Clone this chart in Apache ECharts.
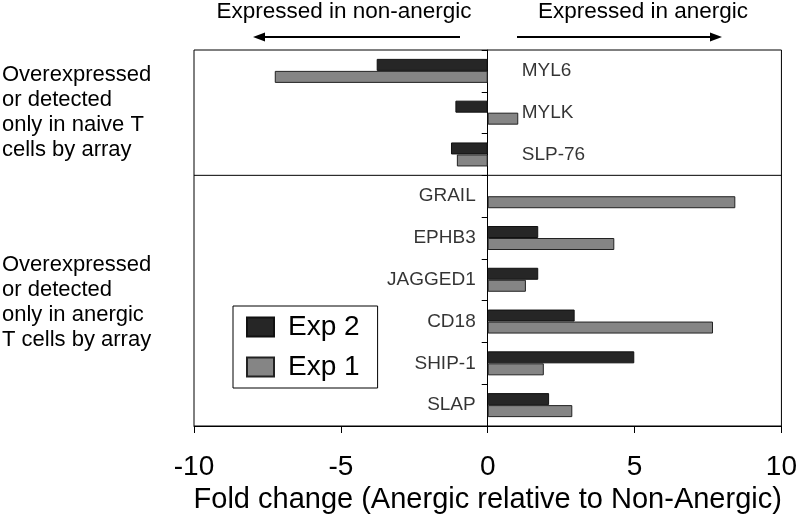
<!DOCTYPE html>
<html>
<head>
<meta charset="utf-8">
<script src="https://cdn.jsdelivr.net/npm/echarts@6/dist/echarts.min.js"></script>
<style>
html,body{margin:0;padding:0;background:#fff;}
#chart{width:800px;height:521px;}
</style>
</head>
<body>
<div id="chart"></div>
<script>
// ---- data ----
const categories = ['MYL6', 'MYLK', 'SLP-76', 'GRAIL', 'EPHB3', 'JAGGED1', 'CD18', 'SHIP-1', 'SLAP'];
const groupOf = ['naive', 'naive', 'naive', 'anergic', 'anergic', 'anergic', 'anergic', 'anergic', 'anergic'];
const exp2 = [-3.78, -1.10, -1.25, null, 1.72, 1.72, 2.96, 4.99, 2.09];
const exp1 = [-7.25, 1.04, -1.05, 8.43, 4.31, 1.30, 7.67, 1.91, 2.88];
const seriesNames = ['Exp 2', 'Exp 1'];
const xTicks = [-10, -5, 0, 5, 10];
const groupTexts = {
  naive: 'Overexpressed\nor detected\nonly in naive T\ncells by array',
  anergic: 'Overexpressed\nor detected\nonly in anergic\nT cells by array'
};
const axisTitle = 'Fold change (Anergic relative to Non-Anergic)';
const leftHeader = 'Expressed in non-anergic';
const rightHeader = 'Expressed in anergic';

const FONT = 'Liberation Sans, Arial, Helvetica, sans-serif';
const chart = echarts.init(document.getElementById('chart'), null, {renderer: 'canvas'});

const labelData = categories.map((c, i) => ({
  value: [0, c],
  label: groupOf[i] === 'naive'
    ? {position: 'right', distance: 34}
    : {position: 'left', distance: 12}
}));

chart.setOption({
  animation: false,
  backgroundColor: '#fff',
  grid: {left: 194, top: 50, width: 591, height: 376, show: true, borderColor: '#000', borderWidth: 1, backgroundColor: 'transparent'},
  legend: {
    data: seriesNames,
    orient: 'vertical',
    left: 233, top: 306,
    itemWidth: 27, itemHeight: 19, itemGap: 12,
    padding: [7, 18, 7, 13],
    borderColor: '#000', borderWidth: 1, borderRadius: 0,
    backgroundColor: '#fff',
    icon: 'rect',
    textStyle: {fontSize: 28, color: '#000', fontFamily: FONT, padding: [0, 0, 0, 9]},
    selectedMode: false
  },
  xAxis: {
    type: 'value', min: xTicks[0], max: xTicks[xTicks.length - 1], interval: 5,
    axisLine: {show: true, onZero: false, lineStyle: {color: '#000', width: 1}},
    axisTick: {show: true, length: 7, lineStyle: {color: '#000'}},
    splitLine: {show: false},
    axisLabel: {fontSize: 28, color: '#000', fontFamily: FONT, margin: 27},
    name: axisTitle, nameLocation: 'middle', nameGap: 59,
    nameTextStyle: {fontSize: 29, color: '#000', fontFamily: FONT}
  },
  yAxis: {
    type: 'category', data: categories, inverse: true,
    axisLine: {show: true, onZero: true, lineStyle: {color: '#000', width: 1}},
    axisTick: {show: true, length: 6, lineStyle: {color: '#000'}},
    axisLabel: {show: false},
    splitLine: {show: false}
  },
  series: [
    {
      name: seriesNames[0], type: 'bar', data: exp2,
      barWidth: 12, barGap: '0%',
      itemStyle: {color: '#262626', borderColor: '#111', borderWidth: 1}
    },
    {
      name: seriesNames[1], type: 'bar', data: exp1,
      barWidth: 12, barGap: '0%',
      itemStyle: {color: '#858585', borderColor: '#222', borderWidth: 1}
    },
    {
      name: 'labels', type: 'scatter', data: labelData,
      symbolSize: 0, silent: true, z: 5,
      label: {show: true, formatter: p => p.value[1], fontSize: 19, color: '#000', fontFamily: FONT}
    }
  ]
});

// ---- annotations built from the axis scales ----
const yA = chart.convertToPixel({yAxisIndex: 0}, categories[2]);
const yB = chart.convertToPixel({yAxisIndex: 0}, categories[3]);
const yDiv = (yA + yB) / 2;
const xL = chart.convertToPixel({xAxisIndex: 0}, xTicks[0]);
const xR = chart.convertToPixel({xAxisIndex: 0}, xTicks[xTicks.length - 1]);
const arrowY = 37;

chart.setOption({
  graphic: [
    {type: 'line', shape: {x1: xL, y1: yDiv, x2: xR, y2: yDiv}, style: {stroke: '#000', lineWidth: 1}, z: 10},
    {type: 'text', x: 344, y: 12, style: {text: leftHeader, font: '22.5px ' + FONT, fill: '#000', align: 'center', verticalAlign: 'middle'}},
    {type: 'text', x: 643, y: 12, style: {text: rightHeader, font: '22.5px ' + FONT, fill: '#000', align: 'center', verticalAlign: 'middle'}},
    {type: 'line', shape: {x1: 262, y1: arrowY, x2: 460, y2: arrowY}, style: {stroke: '#000', lineWidth: 2}},
    {type: 'polygon', shape: {points: [[253, arrowY], [265, arrowY - 4.5], [265, arrowY + 4.5]]}, style: {fill: '#000'}},
    {type: 'line', shape: {x1: 517, y1: arrowY, x2: 713, y2: arrowY}, style: {stroke: '#000', lineWidth: 2}},
    {type: 'polygon', shape: {points: [[722, arrowY], [710, arrowY - 4.5], [710, arrowY + 4.5]]}, style: {fill: '#000'}},
    {type: 'text', x: 2, y: 112.5, style: {text: groupTexts.naive, font: '22px ' + FONT, lineHeight: 25, fill: '#000', align: 'left', verticalAlign: 'middle'}},
    {type: 'text', x: 2, y: 302.5, style: {text: groupTexts.anergic, font: '22px ' + FONT, lineHeight: 25, fill: '#000', align: 'left', verticalAlign: 'middle'}}
  ]
});
</script>
</body>
</html>
